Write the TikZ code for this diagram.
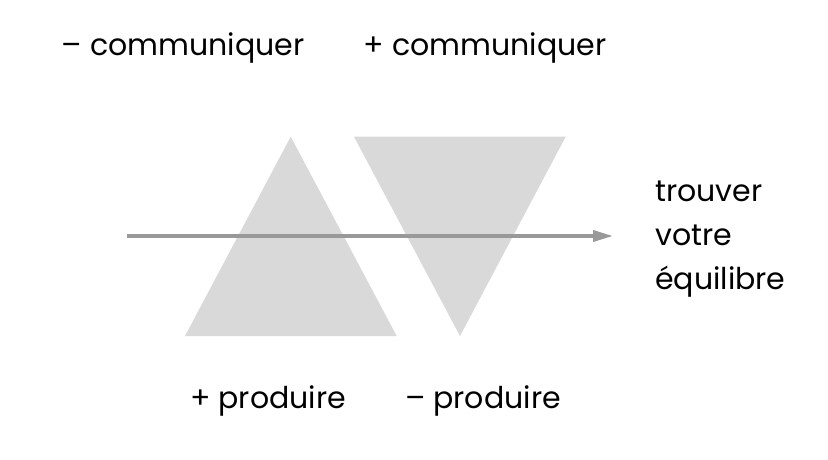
\documentclass[tikz,border=0pt]{standalone}
\usepackage{fontspec}
\setmainfont{Poppins}
\usetikzlibrary{arrows.meta,positioning}

\begin{document}
\begin{tikzpicture}[x=1pt,y=-1pt,
    lbl/.style={inner sep=0pt,font=\fontsize{30}{44}\selectfont},
    tri/.style={fill=black!15},
    axe/.style={draw=black!40,line width=3.5pt,-{Triangle[length=20pt,width=11pt]}}]
  \useasboundingbox (0,0) rectangle (828,460);

  % triangles
  \fill[tri] (290.7,136.7) -- (396.7,336) -- (185,336) -- cycle;
  \fill[tri] (354,136.7) -- (565.7,136.7) -- (460,336) -- cycle;

  % arrow
  \coordinate (start) at (126.7,236);
  \coordinate (end) at (613,236);
  \draw[axe] (start) -- (end);

  % labels
  \node[lbl] (mcom) at (183,48) {– communiquer};
  \node[lbl] (pcom) at (485,48) {+ communiquer};
  \node[lbl] (pprod) at (268,401) {+ produire};
  \node[lbl] (mprod) at (483,401) {– produire};
  \node[lbl,anchor=west,align=left] (equi) at (655,239) {trouver\\votre\\équilibre};
\end{tikzpicture}
\end{document}
